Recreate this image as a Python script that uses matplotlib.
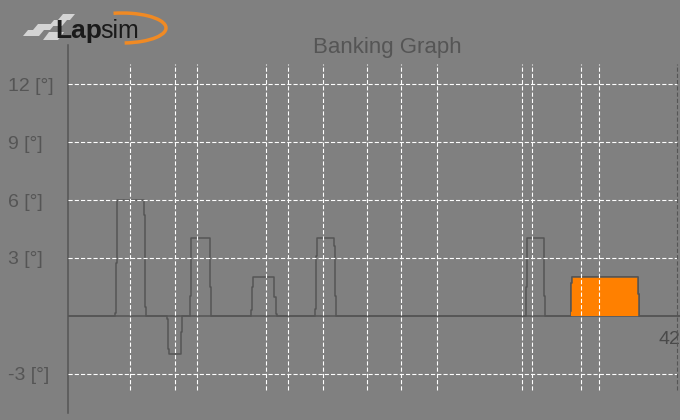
import numpy as np
import matplotlib
matplotlib.use("Agg")
import matplotlib.pyplot as plt
from matplotlib.patches import Arc, Polygon

plt.rcParams['font.family'] = ['Liberation Sans', 'DejaVu Sans']
plt.rcParams['lines.scale_dashes'] = False

# banking profile (track position, degrees), stepped
prof_x = [0, 3.24, 3.33, 3.40, 5.26, 5.33, 5.40,
          6.85, 6.92, 6.99, 7.81, 7.88,
          8.43, 8.50, 9.81, 9.88,
          12.64, 12.71, 12.78, 14.23, 14.32, 14.39,
          17.06, 17.12, 17.19, 18.37, 18.43, 18.50,
          31.61, 31.68, 32.80, 32.87,
          34.67, 34.71, 34.78, 39.31, 39.38, 42.2]
prof_y = [0, 0.15, 2.76, 6.0, 5.2, 0.48, 0,
          -0.17, -1.7, -1.97, -0.81, 0,
          1.03, 4.02, 1.5, 0,
          0.31, 1.52, 2.0, 1.0, 0.1, 0,
          0.35, 3.1, 4.02, 3.6, 1.03, 0,
          1.52, 4.02, 1.03, 0,
          0.25, 1.7, 2.0, 1.14, 0, 0]

# highlighted (current) corner
hl_x = [34.67, 34.71, 34.78, 39.31, 39.38]
hl_y = [0.25, 1.7, 2.0, 1.14, 0]

# sector markers
sector_x = [4.28, 7.38, 8.90, 13.66, 15.17, 17.59, 20.62, 22.97, 25.45,
            31.31, 32.0, 35.38, 36.62]
track_end = 42

y_ticks = [12, 9, 6, 3, -3]
y_labels = [f'{v} [°]' for v in y_ticks]

bg = '#808080'
dark = '#555555'

fig = plt.figure(figsize=(6.8, 4.2), dpi=100, facecolor=bg)
ax = fig.add_axes([68/680, 7/420, 612/680, 368/420])
ax.set_facecolor(bg)
ax.set_xlim(0, 612/14.5)
ax.set_ylim(-5.02, 14.02)

for s in ['top', 'right', 'bottom']:
    ax.spines[s].set_visible(False)
ax.spines['left'].set_color(dark)
ax.spines['left'].set_linewidth(1.1)

ax.set_xticks([])
ax.set_yticks(y_ticks)
ax.set_yticklabels(y_labels)
ax.tick_params(axis='y', length=0, pad=43.2, labelsize=14, labelcolor=dark)
for lbl in ax.get_yticklabels():
    lbl.set_horizontalalignment('left')

ax.axhline(0, color=dark, lw=1.1, zorder=2)
ax.plot(prof_x, prof_y, drawstyle='steps-post', color=dark, lw=1.1, zorder=3)
ax.fill_between(hl_x, hl_y, step='post', color='#FF8000', lw=0, zorder=3)
ax.plot(hl_x, hl_y, drawstyle='steps-post', color=dark, lw=1.1, zorder=3)

dash = (0, (3, 1.5))
ax.hlines(y_ticks, 0, track_end, colors='white', linestyles=dash, lw=0.8, zorder=4)
ax.vlines(sector_x, -3.83, 13.03, colors='white', linestyles=dash, lw=0.8, zorder=4)
ax.vlines(track_end, -3.83, 13.03, colors=dark, linestyles=dash, lw=0.8, zorder=4)

ax.text(41.45, -1.24, str(track_end), ha='center', va='center', fontsize=14,
        color='#4a4a4a', clip_on=False)

fig.text(387/680, 1 - 53/420, 'Banking Graph', ha='center', va='baseline',
         fontsize=16, color=dark)

# logo
lax = fig.add_axes([0, 0, 1, 1])
lax.set_xlim(0, 680)
lax.set_ylim(420, 0)
lax.axis('off')
checks = [
    [(63, 14), (75, 14), (70, 20), (58, 20)],
    [(54, 20), (67, 20), (62, 26), (49, 26)],
    [(38, 24), (55, 24), (50, 30), (33, 30)],
    [(28, 30), (44, 30), (39, 36), (23, 36)],
    [(49, 32), (64, 32), (58, 40), (43, 40)],
]
for c in checks:
    lax.add_patch(Polygon(c, closed=True, color='#d4d4d4', lw=0))
lax.add_patch(Arc((122, 28), 88, 30, theta1=-120, theta2=80, color='#F08A24', lw=2.5))
lax.text(55, 38, 'Lap', fontsize=19, fontweight='bold', color='#1a1a1a', va='baseline')
lax.text(100, 38, 'sim', fontsize=18, color='#1a1a1a', va='baseline')

fig.savefig('out.png', dpi=100, facecolor=bg)
